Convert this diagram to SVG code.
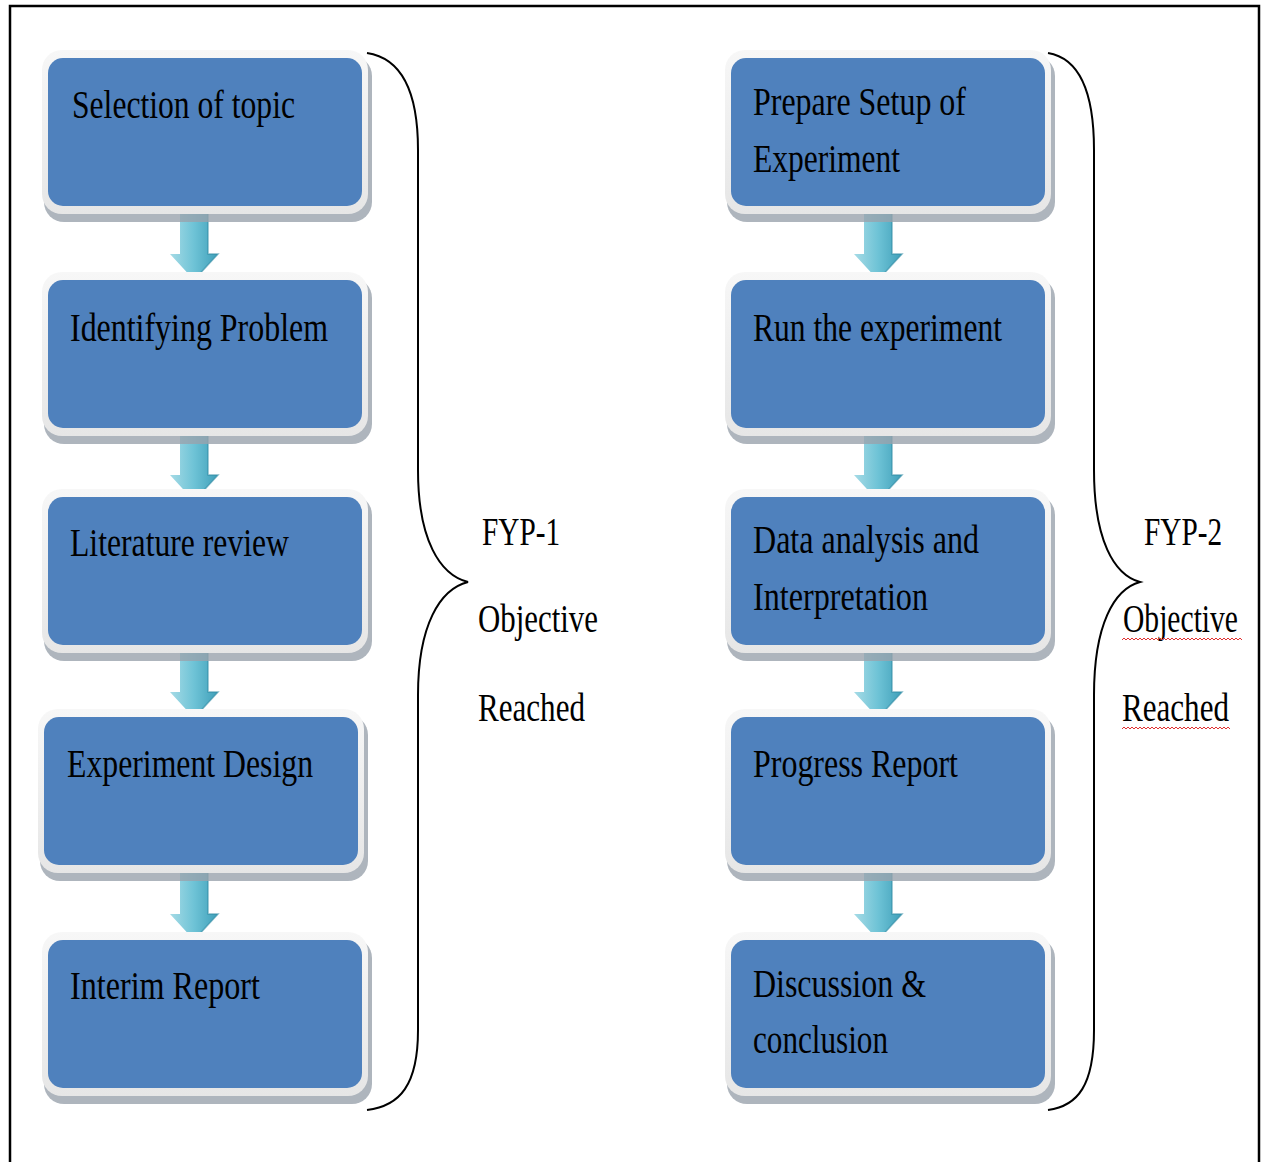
<svg xmlns="http://www.w3.org/2000/svg" width="1269" height="1162" viewBox="0 0 1269 1162">
<defs>
<linearGradient id="ag" x1="0" y1="0" x2="1" y2="0">
<stop offset="0" stop-color="#a6dbe6"/>
<stop offset="0.5" stop-color="#6ec3d6"/>
<stop offset="1" stop-color="#3f9fb9"/>
</linearGradient>
<linearGradient id="fg" x1="0" y1="0" x2="0" y2="1">
<stop offset="0" stop-color="#f7f7f7"/>
<stop offset="1" stop-color="#e6e6e6"/>
</linearGradient>
<g id="box">
<rect x="2" y="6" width="328" height="166" rx="20" fill="#9aa3ad" opacity="0.8"/>
<rect x="0" y="0" width="326" height="164" rx="20" fill="url(#fg)"/>
<rect x="6" y="8" width="314" height="148" rx="15" fill="#4f81bd"/>
</g>
<g id="arrow">
<path d="M-14,0 H14 V44 H24 L0,70 L-24,44 H-14 Z" fill="url(#ag)"/>
<path d="M14,0 V44 H24 L0,70" fill="none" stroke="#2f8aa3" stroke-width="1.5" opacity="0.6"/>
</g>
</defs>
<style>
.t{font-family:"Liberation Serif","Times New Roman",serif;font-size:40px;fill:#000}
.brace{fill:none;stroke:#000;stroke-width:2}
</style>
<rect x="10" y="6" width="1249" height="1170" fill="#fff" stroke="#000" stroke-width="2.5"/>

<g id="connectors">
<use href="#arrow" x="194" y="210"/>
<use href="#arrow" x="194" y="431"/>
<use href="#arrow" x="194" y="648"/>
<use href="#arrow" x="194" y="870"/>
<use href="#arrow" x="878" y="210"/>
<use href="#arrow" x="878" y="431"/>
<use href="#arrow" x="878" y="648"/>
<use href="#arrow" x="878" y="870"/>
</g>

<g id="n1"><use href="#box" x="42" y="50"/><text class="t" x="72" y="118" textLength="223" lengthAdjust="spacingAndGlyphs">Selection of topic</text></g>
<g id="n2"><use href="#box" x="42" y="272"/><text class="t" x="70" y="341" textLength="258" lengthAdjust="spacingAndGlyphs">Identifying Problem</text></g>
<g id="n3"><use href="#box" x="42" y="489"/><text class="t" x="70" y="556" textLength="219" lengthAdjust="spacingAndGlyphs">Literature review</text></g>
<g id="n4"><use href="#box" x="38" y="709"/><text class="t" x="67" y="777" textLength="246" lengthAdjust="spacingAndGlyphs">Experiment Design</text></g>
<g id="n5"><use href="#box" x="42" y="932"/><text class="t" x="70" y="999" textLength="190" lengthAdjust="spacingAndGlyphs">Interim Report</text></g>

<g id="n6"><use href="#box" x="725" y="50"/><text class="t" x="753" y="115" textLength="213" lengthAdjust="spacingAndGlyphs">Prepare Setup of</text><text class="t" x="753" y="172" textLength="147" lengthAdjust="spacingAndGlyphs">Experiment</text></g>
<g id="n7"><use href="#box" x="725" y="272"/><text class="t" x="753" y="341" textLength="249" lengthAdjust="spacingAndGlyphs">Run the experiment</text></g>
<g id="n8"><use href="#box" x="725" y="489"/><text class="t" x="753" y="553" textLength="226" lengthAdjust="spacingAndGlyphs">Data analysis and</text><text class="t" x="753" y="610" textLength="175" lengthAdjust="spacingAndGlyphs">Interpretation</text></g>
<g id="n9"><use href="#box" x="725" y="709"/><text class="t" x="753" y="777" textLength="205" lengthAdjust="spacingAndGlyphs">Progress Report</text></g>
<g id="n10"><use href="#box" x="725" y="932"/><text class="t" x="753" y="997" textLength="173" lengthAdjust="spacingAndGlyphs">Discussion &amp;</text><text class="t" x="753" y="1053" textLength="135" lengthAdjust="spacingAndGlyphs">conclusion</text></g>

<g id="brace1">
<path class="brace" d="M367,53 C400,58 418,90 418,150 V470 C418,540 440,575 468,582 C440,589 418,625 418,695 V1030 C418,1085 400,1106 367,1110"/>
<text class="t" x="482" y="545" textLength="78" lengthAdjust="spacingAndGlyphs">FYP-1</text>
<text class="t" x="478" y="632" textLength="120" lengthAdjust="spacingAndGlyphs">Objective</text>
<text class="t" x="478" y="721" textLength="107" lengthAdjust="spacingAndGlyphs">Reached</text>
</g>
<g id="brace2">
<path class="brace" d="M1048,53 C1078,58 1094,90 1094,150 V470 C1094,540 1114,575 1140,582 C1114,589 1094,625 1094,695 V1030 C1094,1085 1078,1106 1048,1110"/>
<text class="t" x="1123" y="632" textLength="115" lengthAdjust="spacingAndGlyphs">Objective</text>
<text class="t" x="1144" y="545" textLength="78" lengthAdjust="spacingAndGlyphs">FYP-2</text>
<text class="t" x="1122" y="721" textLength="107" lengthAdjust="spacingAndGlyphs">Reached</text>
<path d="M1122,640 l2,-2 l2,2 l2,-2 l2,2 l2,-2 l2,2 l2,-2 l2,2 l2,-2 l2,2 l2,-2 l2,2 l2,-2 l2,2 l2,-2 l2,2 l2,-2 l2,2 l2,-2 l2,2 l2,-2 l2,2 l2,-2 l2,2 l2,-2 l2,2 l2,-2 l2,2 l2,-2 l2,2 l2,-2 l2,2 l2,-2 l2,2 l2,-2 l2,2 l2,-2 l2,2 l2,-2 l2,2 l2,-2 l2,2 l2,-2 l2,2 l2,-2 l2,2 l2,-2 l2,2 l2,-2 l2,2 l2,-2 l2,2 l2,-2 l2,2 l2,-2 l2,2 l2,-2 l2,2 l2,-2 l2,2" fill="none" stroke="#e03030" stroke-width="1"/>
<path d="M1122,729 l2,-2 l2,2 l2,-2 l2,2 l2,-2 l2,2 l2,-2 l2,2 l2,-2 l2,2 l2,-2 l2,2 l2,-2 l2,2 l2,-2 l2,2 l2,-2 l2,2 l2,-2 l2,2 l2,-2 l2,2 l2,-2 l2,2 l2,-2 l2,2 l2,-2 l2,2 l2,-2 l2,2 l2,-2 l2,2 l2,-2 l2,2 l2,-2 l2,2 l2,-2 l2,2 l2,-2 l2,2 l2,-2 l2,2 l2,-2 l2,2 l2,-2 l2,2 l2,-2 l2,2 l2,-2 l2,2 l2,-2 l2,2 l2,-2 l2,2" fill="none" stroke="#e03030" stroke-width="1"/>
</g>
</svg>
